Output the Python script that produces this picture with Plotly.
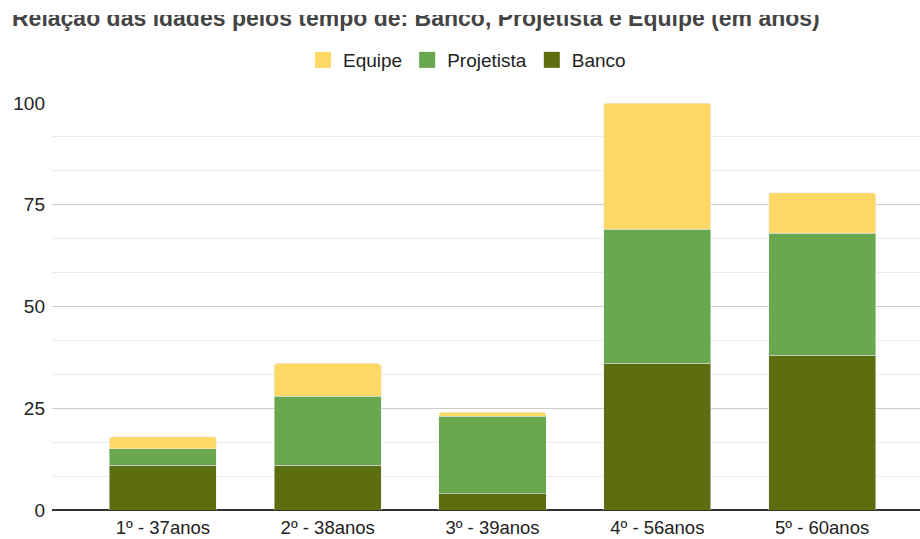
import plotly.graph_objects as go

categories = ["1º - 37anos", "2º - 38anos", "3º - 39anos", "4º - 56anos", "5º - 60anos"]
banco = [11, 11, 4, 36, 38]
projetista = [4, 17, 19, 33, 30]
equipe = [3, 8, 1, 31, 10]
title_text = "Relação das idades pelos tempo de: Banco, Projetista e Equipe (em anos)"

series = [("Banco", banco, "#5C6E10"), ("Projetista", projetista, "#6AA84F"), ("Equipe", equipe, "#FFD966")]

FONT = "Liberation Sans, Arial, sans-serif"
W, H = 920, 539
L, R, T, B = 52, 0, 103, 29
pw = W - L - R
ph = H - T - B

fig = go.Figure()
for name, vals, col in series:
    fig.add_trace(go.Bar(name=name, x=categories, y=vals, marker_color=col, width=0.65,
                         legendgroup=name, showlegend=False))
for name, vals, col in series:
    fig.add_trace(go.Scatter(name=name, x=[None], y=[None], mode="markers",
                             marker=dict(symbol="square", size=18, color=col),
                             legendgroup=name, showlegend=True))

fig.update_layout(
    width=W, height=H,
    margin=dict(l=L, r=R, t=T, b=B, autoexpand=False),
    barmode="stack",
    barcornerradius=3,
    plot_bgcolor="white", paper_bgcolor="white",
    font=dict(family=FONT, size=19, color="#222222"),
    showlegend=True,
    legend=dict(orientation="h", traceorder="reversed",
                x=(467 - L) / pw, xanchor="center",
                y=1 + (T - 60) / ph, yanchor="middle",
                font=dict(size=19, color="#222222"),
                itemwidth=30, itemsizing="trace"),
    xaxis=dict(range=[-0.673, 4.594], showgrid=False, showline=False, automargin=False,
               ticks="", ticklabelstandoff=4, tickfont=dict(size=18.5, color="#222222"),
               fixedrange=True),
    yaxis=dict(range=[0, 100], tickvals=[0, 25, 50, 75, 100], automargin=False,
               showgrid=True, gridcolor="#cccccc", gridwidth=1,
               zeroline=True, zerolinecolor="#333333", zerolinewidth=1.5,
               minor=dict(dtick=100 / 12, showgrid=True, gridcolor="#ebebeb", gridwidth=1),
               ticks="", ticklabelstandoff=6,
               tickfont=dict(size=19, color="#222222"),
               showline=False),
    annotations=[
        dict(text="<b>" + title_text + "</b>", xref="paper", yref="paper",
             x=(10 - L) / pw, xanchor="left",
             y=1 + (T - 18) / ph, yanchor="middle",
             showarrow=False, font=dict(size=23, color="#444444", family=FONT)),
        dict(text=" ", xref="paper", yref="paper",
             x=-L / pw, xanchor="left", y=1 + T / ph, yanchor="top",
             width=W, height=15, bgcolor="white", borderpad=0, borderwidth=0,
             showarrow=False),
    ],
)

fig.write_html("out.html")
